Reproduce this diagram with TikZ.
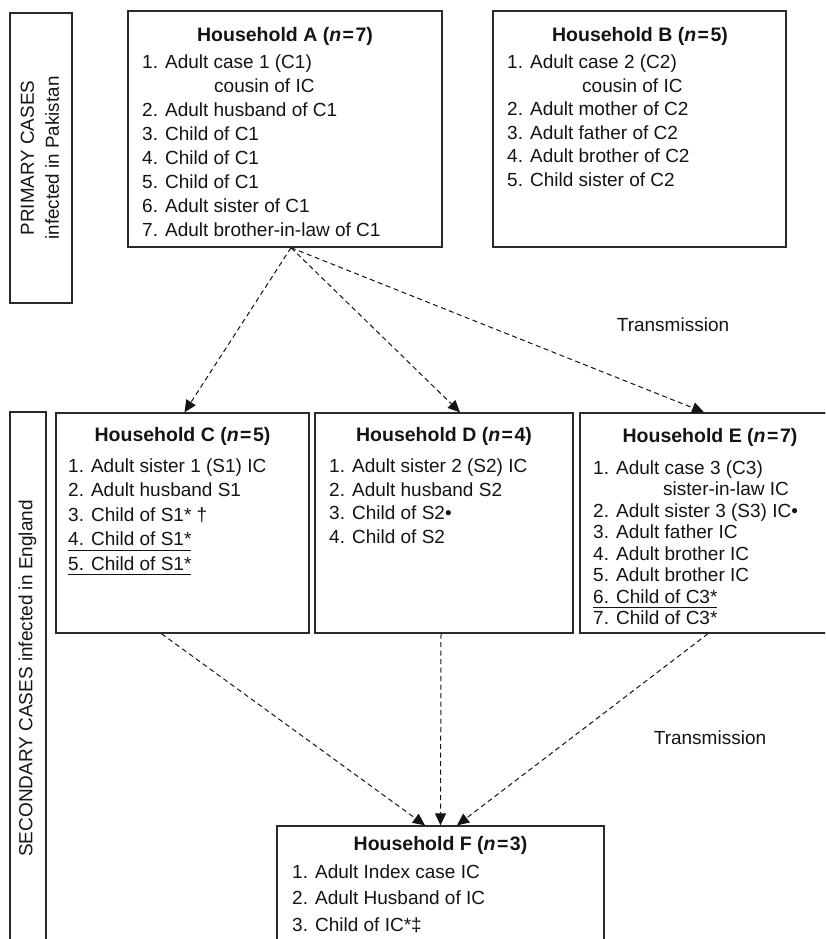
\documentclass[tikz,border=0pt]{standalone}
\usepackage{fontspec}
\setmainfont{Liberation Sans}
\usetikzlibrary{arrows.meta}
\definecolor{ink}{HTML}{141414}
\definecolor{edge}{HTML}{2A2A2A}
\newcommand{\li}[1]{\hbox{#1}}
\newcommand{\undl}[1]{\setbox0=\hbox{#1}\rlap{\rule[-5pt]{\wd0}{0.9pt}}\box0}
\newcommand{\hh}[2]{\textbf{Household #1 (\textit{n}\kern1.5pt=\kern1.5pt#2)}}
\newcommand{\lst}[2]{\vtop{\baselineskip=#1\lineskiplimit=-100pt\relax #2}}
\tikzset{
  hbox/.style={draw=edge, line width=1.4pt, inner sep=0pt},
  ttl/.style={anchor=base, inner sep=0pt, text=ink, font=\fontsize{19.5}{23}\selectfont},
  txt/.style={anchor=base west, inner sep=0pt, text=ink, font=\fontsize{19}{24}\selectfont},
  lbl/.style={inner sep=0pt, text=ink, font=\fontsize{19}{24}\selectfont},
  arr/.style={draw=ink, line width=1pt, dash pattern=on 5pt off 3.5pt,
    -{Triangle[length=12pt,width=11pt]}},
}
\begin{document}
\begin{tikzpicture}[x=1pt,y=-1pt]
\useasboundingbox (0,0) rectangle (825,939);
\clip (0,0) rectangle (825,939);
\fill[white] (0,0) rectangle (825,939);

% side labels
\node[hbox, minimum width=62pt, minimum height=290pt] (P) at (41,158) {};
\node[lbl, rotate=90, align=center, font=\fontsize{18.8}{25}\selectfont] (Pt) at (40,158)
  {PRIMARY CASES\\infected in Pakistan};
\node[hbox, minimum width=36pt, minimum height=560pt] (S) at (28,692) {};
\node[lbl, rotate=90] (St) at (27.5,678.5) {SECONDARY CASES infected in England};

% household boxes
\node[hbox, minimum width=314pt, minimum height=236pt] (A) at (285,129) {};
\node[hbox, minimum width=293pt, minimum height=236pt] (B) at (639.5,129) {};
\node[hbox, minimum width=253pt, minimum height=220pt] (C) at (182.5,523) {};
\node[hbox, minimum width=258pt, minimum height=220pt] (D) at (444,523) {};
\node[hbox, minimum width=260pt, minimum height=220pt] (E) at (710,523) {};
\node[hbox, minimum width=327pt, minimum height=140pt] (F) at (440.5,896) {};

% titles
\node[ttl] (At) at (285,41.5) {\hh{A}{7}};
\node[ttl] (Bt) at (640,41.5) {\hh{B}{5}};
\node[ttl] (Ct) at (182.5,441) {\hh{C}{5}};
\node[ttl] (Dt) at (444,441) {\hh{D}{4}};
\node[ttl] (Et) at (710,442) {\hh{E}{7}};
\node[ttl] (Ft) at (440.5,850) {\hh{F}{3}};

% lists
\node[txt] (Al) at (142,68.5) {\lst{24pt}{%
  \li{1. Adult case 1 (C1)}
  \li{\hskip72pt cousin of IC}
  \li{2. Adult husband of C1}
  \li{3. Child of C1}
  \li{4. Child of C1}
  \li{5. Child of C1}
  \li{6. Adult sister of C1}
  \li{7. Adult brother-in-law of C1}}};
\node[txt] (Bl) at (507,68.5) {\lst{23.6pt}{%
  \li{1. Adult case 2 (C2)}
  \li{\hskip75pt cousin of IC}
  \li{2. Adult mother of C2}
  \li{3. Adult father of C2}
  \li{4. Adult brother of C2}
  \li{5. Child sister of C2}}};
\node[txt] (Cl) at (68,472) {\lst{24.5pt}{%
  \li{1. Adult sister 1 (S1) IC}
  \li{2. Adult husband S1}
  \li{3. Child of S1* †}
  \li{\undl{4. Child of S1*}}
  \li{\undl{5. Child of S1*}}}};
\node[txt] (Dl) at (329,472.5) {\lst{23.5pt}{%
  \li{1. Adult sister 2 (S2) IC}
  \li{2. Adult husband S2}
  \li{3. Child of S2•}
  \li{4. Child of S2}}};
\node[txt] (El) at (593,474) {\lst{21.5pt}{%
  \li{1. Adult case 3 (C3)}
  \li{\hskip70pt sister-in-law IC}
  \li{2. Adult sister 3 (S3) IC•}
  \li{3. Adult father IC}
  \li{4. Adult brother IC}
  \li{5. Adult brother IC}
  \li{\undl{6. Child of C3*}}
  \li{7. Child of C3*}}};
\node[txt] (Fl) at (292,878) {\lst{26.8pt}{%
  \li{1. Adult Index case IC}
  \li{2. Adult Husband of IC}
  \li{3. Child of IC*‡}}};

% transmission labels
\node[lbl] (T1) at (673,325) {Transmission};
\node[lbl] (T2) at (710,738) {Transmission};

% connectors
\coordinate (a0) at ([xshift=6pt]A.south);
\draw[arr] (a0) -- ([xshift=2pt]C.north);
\draw[arr] (a0) -- ([xshift=16pt]D.north);
\draw[arr] (a0) -- ([xshift=-6pt]E.north);
\draw[arr] ([xshift=-21pt]C.south) -- ([xshift=-15.5pt]F.north);
\draw[arr] ([xshift=-3pt]D.south) -- (F.north);
\draw[arr] ([xshift=-2pt]E.south) -- ([xshift=16.5pt]F.north);
\end{tikzpicture}
\end{document}
